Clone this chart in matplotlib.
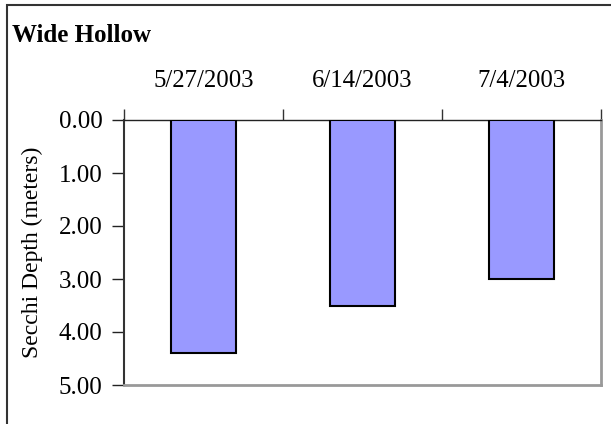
import matplotlib.pyplot as plt
from matplotlib.patches import Rectangle

dates = ["5/27/2003", "6/14/2003", "7/4/2003"]
depths = [4.4, 3.5, 3.0]
yticks = [0, 1, 2, 3, 4, 5]

plt.rcParams['font.family'] = ['Liberation Serif', 'DejaVu Serif']

fig = plt.figure(figsize=(6.11, 4.24), dpi=100)
ax = fig.add_axes([124 / 611, 1 - 385 / 424, 477 / 611, 265 / 424])

x = range(len(dates))
ax.bar(x, depths, width=0.41, color='#9999FF', edgecolor='black', linewidth=1.5, zorder=3)

ax.set_xlim(-0.5, 2.5)
ax.set_ylim(5, 0)
ax.set_yticks(yticks)
ax.set_yticklabels([f"{v:.2f}" for v in yticks], fontsize=18)

# category labels sit on top, ticks between categories
ax.xaxis.tick_top()
ax.set_xticks(list(x))
ax.set_xticklabels(dates, fontsize=17.8)
ax.tick_params(axis='x', which='major', length=0, pad=20)
ax.set_xticks([-0.5, 0.5, 1.5, 2.5], minor=True)
ax.tick_params(axis='x', which='minor', top=True, bottom=False, length=8, width=1, direction='out', color='#333333')
ax.tick_params(axis='y', length=9, width=1, direction='out', pad=6.5, color='#222222')

ax.set_ylabel("Secchi Depth (meters)", fontsize=17, labelpad=11)

ax.spines['top'].set_color('#222222')
ax.spines['top'].set_linewidth(1)
ax.spines['left'].set_color('#333333')
ax.spines['left'].set_linewidth(1.5)
ax.spines['right'].set_color('#999999')
ax.spines['right'].set_linewidth(2)
ax.spines['bottom'].set_color('#999999')
ax.spines['bottom'].set_linewidth(2)

fig.text(12 / 611, 1 - 42 / 424, "Wide Hollow", fontsize=18, fontweight='bold', ha='left', va='baseline')

# outer chart border, running off the right and bottom edges
fig.patches.append(Rectangle((7 / 611, -0.1), 1.2, 1 - 5 / 424 + 0.1, transform=fig.transFigure,
                             fill=False, edgecolor='#333333', linewidth=1.5))

fig.savefig("out.png", dpi=100)
